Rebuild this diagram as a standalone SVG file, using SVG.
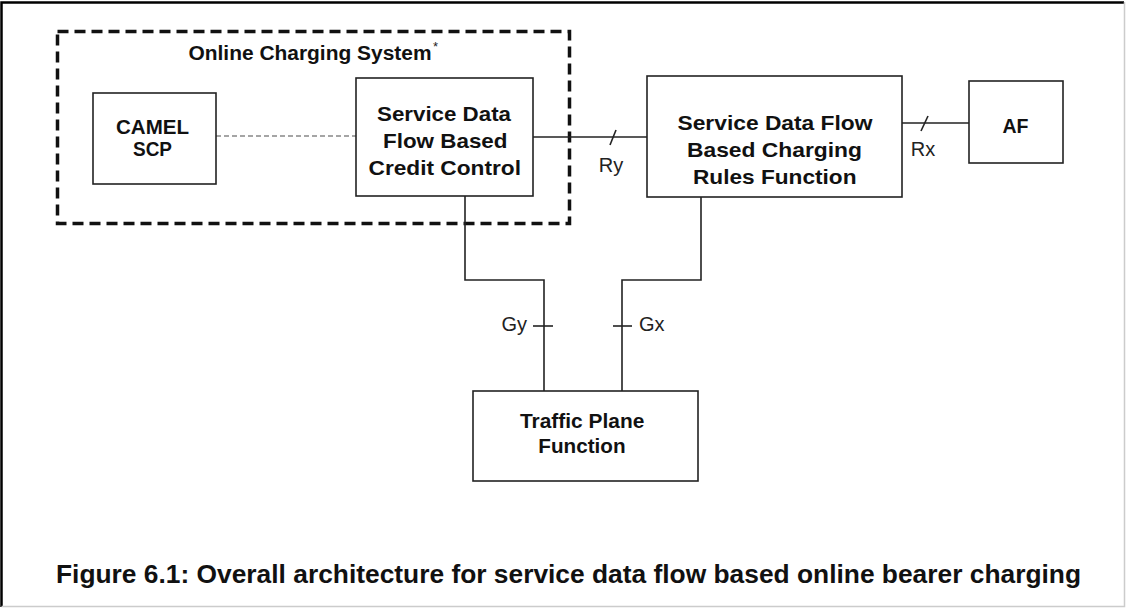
<svg xmlns="http://www.w3.org/2000/svg" width="1126" height="609" viewBox="0 0 1126 609">
<style>
.box{fill:#fff;stroke:#222;stroke-width:1.6}
.t{font-family:"Liberation Sans",Arial,sans-serif;font-weight:bold;font-size:21px;fill:#111}
.lbl{font-family:"Liberation Sans",Arial,sans-serif;font-size:20px;fill:#222}
.ln{fill:none;stroke:#222;stroke-width:1.6}
</style>
<rect x="0" y="0" width="1126" height="609" fill="#fff"/>
<path d="M1.5,607 V2.5 H1124" fill="none" stroke="#000" stroke-width="2.5"/>
<path d="M1124.5,2 V606.5 H1.5" fill="none" stroke="#ccc" stroke-width="1.5"/>
<g id="ocs">
<rect x="57.5" y="31.5" width="512" height="192" fill="none" stroke="#111" stroke-width="3.5" stroke-dasharray="11 6"/>
<text x="188.5" y="60" class="t" style="font-size:20px" textLength="243" lengthAdjust="spacingAndGlyphs">Online Charging System</text>
<text x="433" y="51" class="lbl" style="font-size:13px">*</text>
</g>
<g id="connectors">
<line x1="216" y1="136" x2="356" y2="136" stroke="#888" stroke-width="1.6" stroke-dasharray="5 3"/>
<line x1="533" y1="137" x2="647" y2="137" class="ln"/>
<line x1="610" y1="145" x2="616" y2="130" class="ln"/>
<line x1="902" y1="123" x2="969" y2="123" class="ln"/>
<line x1="921" y1="131" x2="928" y2="116" class="ln"/>
<polyline points="465,196 465,280 544,280 544,391" class="ln"/>
<polyline points="701,197 701,280 622,280 622,391" class="ln"/>
<line x1="533" y1="326" x2="553" y2="326" class="ln"/>
<line x1="613" y1="326" x2="632" y2="326" class="ln"/>
<text x="611" y="172" class="lbl" text-anchor="middle">Ry</text>
<text x="923" y="156" class="lbl" text-anchor="middle">Rx</text>
<text x="527" y="331" class="lbl" text-anchor="end">Gy</text>
<text x="639" y="331" class="lbl">Gx</text>
</g>
<g id="camel">
<rect x="93" y="93" width="123" height="91" class="box"/>
<text x="116" y="134" class="t" style="font-size:20px" textLength="73" lengthAdjust="spacingAndGlyphs">CAMEL</text>
<text x="133" y="156" class="t" style="font-size:20px" textLength="39" lengthAdjust="spacingAndGlyphs">SCP</text>
</g>
<g id="sdfcc">
<rect x="356" y="78" width="177" height="118" class="box"/>
<text x="377" y="121" class="t" textLength="134" lengthAdjust="spacingAndGlyphs">Service Data</text>
<text x="383" y="148" class="t" textLength="124.5" lengthAdjust="spacingAndGlyphs">Flow Based</text>
<text x="368.5" y="175" class="t" textLength="152.5" lengthAdjust="spacingAndGlyphs">Credit Control</text>
</g>
<g id="pcrf">
<rect x="647" y="76" width="255" height="121" class="box"/>
<text x="677.5" y="130" class="t" textLength="195" lengthAdjust="spacingAndGlyphs">Service Data Flow</text>
<text x="687" y="157" class="t" textLength="175" lengthAdjust="spacingAndGlyphs">Based Charging</text>
<text x="693" y="184" class="t" textLength="163.5" lengthAdjust="spacingAndGlyphs">Rules Function</text>
</g>
<g id="af">
<rect x="969" y="81" width="94" height="82" class="box"/>
<text x="1002.5" y="133" class="t" textLength="26" lengthAdjust="spacingAndGlyphs">AF</text>
</g>
<g id="tpf">
<rect x="473" y="391" width="225" height="90" class="box"/>
<text x="520" y="428" class="t" textLength="124.3" lengthAdjust="spacingAndGlyphs">Traffic Plane</text>
<text x="538.3" y="453" class="t" textLength="87.3" lengthAdjust="spacingAndGlyphs">Function</text>
</g>
<text x="56" y="583" font-family="Liberation Sans,Arial,sans-serif" font-weight="bold" font-size="25" fill="#111" textLength="1025" lengthAdjust="spacingAndGlyphs">Figure 6.1:  Overall architecture for service data flow based online bearer charging</text>
</svg>
